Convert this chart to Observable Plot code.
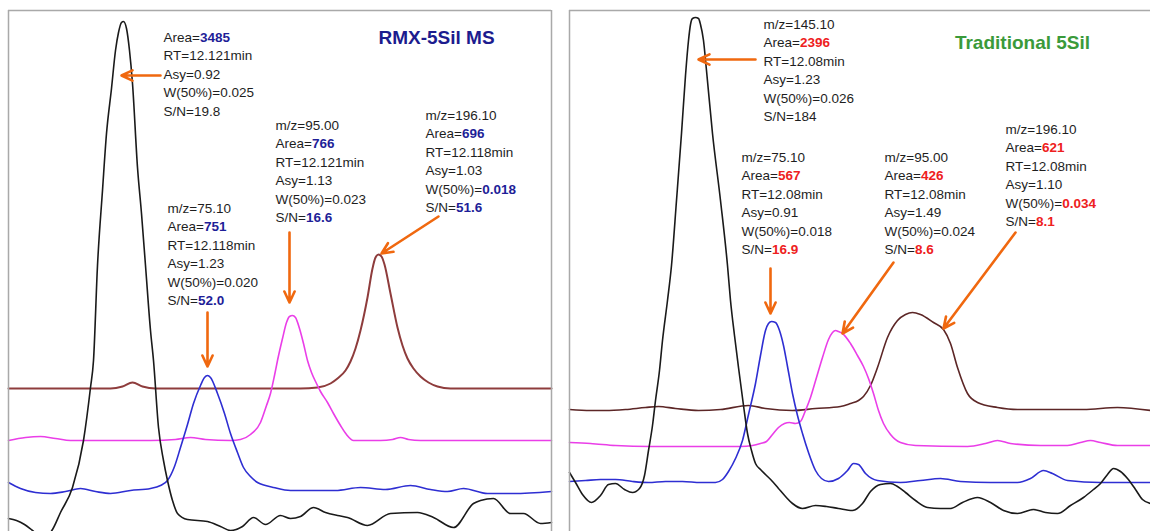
<!DOCTYPE html>
<html>
<head>
<meta charset="utf-8">
<script src="https://cdn.jsdelivr.net/npm/d3@7"></script>
<script src="https://cdn.jsdelivr.net/npm/@observablehq/plot@0.6"></script>
<style>
  html, body { margin: 0; padding: 0; background: #fff; }
  #wrap { display: flex; width: 1150px; height: 531px; overflow: hidden; }
  #wrap svg { display: block; flex: none; }
</style>
</head>
<body>
<div id="wrap"></div>
<script>
// ---------- DATA (scan index vs. intensity) ----------
// Left panel: RMX-5Sil MS
const leftBrown = [[0,143],[52,143],[102,143],[114,145],[124,149],[134,145],[147,143],[192,143],[252,143],[292,143],[309,144],[322,148],[329,153],[337,161],[342,170],[347,183],[352,201],[359,234],[364,263],[367,274],[370,277],[373,275],[376,267],[382,238],[389,204],[394,186],[399,173],[405,163],[412,155],[420,149],[429,145],[442,143],[492,143],[543,143]];
const leftPink = [[0,91],[17,94],[32,95],[47,93],[62,91],[112,91],[142,91],[167,92],[182,94],[197,92],[222,91],[232,92],[242,97],[252,109],[258,126],[262,138],[266,156],[269,171],[274,193],[278,209],[281,215],[284,216],[287,214],[291,203],[295,188],[299,171],[303,159],[308,148],[312,140],[319,129],[325,118],[332,106],[338,97],[345,91],[372,91],[384,92],[392,94],[400,92],[412,91],[472,91],[543,91]];
const leftBlue = [[0,49],[12,43],[27,39],[42,38],[57,40],[72,43],[87,40],[102,38],[122,41],[142,43],[152,46],[159,51],[166,65],[172,84],[179,107],[185,128],[192,146],[196,154],[199,156],[202,154],[209,138],[216,118],[222,98],[229,79],[235,64],[242,55],[249,49],[257,46],[265,44],[282,41],[302,41],[327,41],[352,44],[377,42],[402,46],[422,42],[439,40],[455,43],[479,38],[505,38],[543,40]];
const leftBlack = [[0,13],[8,11],[16,7],[24,1],[32,-5],[38,-5],[44,2],[52,19],[64,44],[75,91],[82,144],[85,171],[89,266],[94,341],[98,398],[103,443],[107,481],[110,499],[113,509],[115,510],[118,503],[121,481],[124,448],[129,364],[133,318],[137,266],[142,201],[145,171],[150,104],[155,71],[159,51],[164,31],[169,18],[179,12],[199,10],[212,5],[222,1],[234,5],[245,14],[257,7],[272,16],[282,13],[292,15],[305,24],[317,19],[329,16],[339,14],[359,6],[382,18],[409,19],[425,14],[445,4],[465,28],[472,31],[485,33],[502,18],[515,18],[532,8],[543,9]];

// Right panel: Traditional 5Sil
const rightBrown = [[0,122],[21,121],[36,121],[56,122],[76,124],[89,125],[106,123],[129,121],[151,122],[179,126],[196,123],[223,121],[246,123],[271,125],[281,128],[289,131],[294,135],[301,146],[308,164],[318,194],[328,211],[336,217],[343,219],[351,217],[364,209],[374,202],[381,188],[388,164],[398,138],[408,129],[428,124],[448,122],[481,122],[514,122],[548,124],[581,121]];
const rightPink = [[0,89],[21,88],[46,86],[81,85],[129,85],[171,85],[183,86],[191,88],[197,90],[203,97],[209,104],[215,108],[220,109],[226,108],[231,110],[236,121],[241,134],[247,154],[253,174],[259,192],[263,199],[266,201],[269,200],[273,198],[281,188],[288,176],[294,165],[299,153],[304,138],[309,121],[314,108],[321,97],[331,89],[346,86],[398,85],[416,88],[428,91],[441,88],[471,86],[498,86],[511,89],[521,91],[531,89],[548,86],[581,86]];
const rightBlue = [[0,50],[16,51],[31,52],[46,52],[63,50],[79,49],[96,50],[113,50],[131,49],[146,49],[153,52],[159,60],[166,73],[173,91],[179,117],[186,148],[191,176],[196,201],[199,208],[202,210],[206,209],[210,201],[214,186],[218,165],[223,138],[228,116],[233,98],[239,79],[246,61],[252,53],[259,50],[269,53],[278,61],[284,68],[289,67],[296,58],[308,51],[331,49],[351,51],[371,53],[391,50],[421,49],[448,49],[461,53],[474,61],[483,58],[498,51],[531,49],[581,49]];
const rightBlack = [[0,59],[6,49],[13,37],[22,29],[31,36],[39,47],[46,48],[55,42],[63,39],[70,43],[75,56],[79,81],[83,106],[86,131],[90,161],[93,191],[98,231],[102,266],[107,331],[112,398],[116,456],[119,491],[121,507],[123,513],[126,514],[129,513],[131,507],[134,491],[137,461],[143,398],[151,331],[158,266],[161,231],[165,196],[169,164],[174,126],[178,98],[182,81],[186,68],[191,62],[196,57],[203,50],[209,43],[216,35],[223,28],[233,23],[246,26],[257,25],[269,23],[283,21],[293,28],[301,40],[311,47],[321,48],[328,45],[336,39],[346,31],[358,24],[371,23],[381,23],[393,29],[408,34],[421,29],[434,21],[448,18],[464,22],[476,19],[488,18],[501,26],[514,34],[524,42],[531,48],[538,57],[544,63],[551,60],[558,53],[566,42],[573,32],[581,28]];

// Peak annotation text (label|highlighted value)
const leftTitle = "RMX-5Sil MS";
const rightTitle = "Traditional 5Sil";
const leftBlocks = [
  {x: 155, y: 494, lines: ["Area=|3485", "RT=12.121min", "Asy=0.92", "W(50%)=0.025", "S/N=19.8"]},
  {x: 159, y: 323, lines: ["m/z=75.10", "Area=|751", "RT=12.118min", "Asy=1.23", "W(50%)=0.020", "S/N=|52.0"]},
  {x: 267, y: 406, lines: ["m/z=95.00", "Area=|766", "RT=12.121min", "Asy=1.13", "W(50%)=0.023", "S/N=|16.6"]},
  {x: 417, y: 416, lines: ["m/z=196.10", "Area=|696", "RT=12.118min", "Asy=1.03", "W(50%)=|0.018", "S/N=|51.6"]}
];
const rightBlocks = [
  {x: 194, y: 507, lines: ["m/z=145.10", "Area=|2396", "RT=12.08min", "Asy=1.23", "W(50%)=0.026", "S/N=184"]},
  {x: 172, y: 374, lines: ["m/z=75.10", "Area=|567", "RT=12.08min", "Asy=0.91", "W(50%)=0.018", "S/N=|16.9"]},
  {x: 315, y: 374, lines: ["m/z=95.00", "Area=|426", "RT=12.08min", "Asy=1.49", "W(50%)=0.024", "S/N=|8.6"]},
  {x: 436, y: 402, lines: ["m/z=196.10", "Area=|621", "RT=12.08min", "Asy=1.10", "W(50%)=|0.034", "S/N=|8.1"]}
];
const leftArrows = [
  {x1: 152, y1: 456, x2: 113, y2: 456},
  {x1: 199, y1: 219, x2: 199, y2: 165},
  {x1: 281, y1: 299, x2: 281, y2: 229},
  {x1: 430, y1: 315, x2: 373, y2: 278}
];
const rightArrows = [
  {x1: 186, y1: 472, x2: 129, y2: 472},
  {x1: 201, y1: 263, x2: 201, y2: 218},
  {x1: 324, y1: 269, x2: 273, y2: 198},
  {x1: 446, y1: 299, x2: 374, y2: 203}
];

// ---------- DRAWING ----------
const FONT = "'Liberation Sans', Arial, sans-serif";
const LINE_STEP = 18.5;
const expand = blocks => blocks.flatMap(b => b.lines.map((t, i) => ({x: b.x, y: b.y - i * LINE_STEP, t})));

function traces(brown, pink, blue, black, brownColor, brownWidth) {
  const opt = {x: d => d[0], y: d => d[1], curve: "monotone-x", strokeLinejoin: "round"};
  return [
    Plot.line(brown, {...opt, stroke: brownColor, strokeWidth: brownWidth}),
    Plot.line(pink, {...opt, stroke: "#ea3ee8", strokeWidth: 1.6}),
    Plot.line(blue, {...opt, stroke: "#2e2ed2", strokeWidth: 1.6}),
    Plot.line(black, {...opt, stroke: "#1a1a1a", strokeWidth: 1.6})
  ];
}
function notes(blocks, arrows) {
  return [
    Plot.arrow(arrows, {x1: "x1", y1: "y1", x2: "x2", y2: "y2", stroke: "#f0680f", strokeWidth: 2.6, headLength: 7, headAngle: 50}),
    Plot.text(expand(blocks), {x: "x", y: "y", text: "t", textAnchor: "start", lineAnchor: "middle", fill: "#1e1e1e", fontSize: 13.5, fontFamily: FONT})
  ];
}
function richify(svg, color) {
  d3.select(svg).selectAll("text").each(function () {
    const s = this.textContent;
    if (!s.includes("|")) return;
    const [a, b] = s.split("|");
    const sel = d3.select(this);
    sel.text(null);
    sel.append("tspan").text(a);
    sel.append("tspan").attr("fill", color).attr("font-weight", "bold").text(b);
  });
}

const left = Plot.plot({
  width: 560, height: 531,
  marginLeft: 8, marginRight: 9, marginTop: 10, marginBottom: 0,
  x: {domain: [0, 543], axis: null},
  y: {domain: [0, 521], axis: null},
  style: {fontFamily: FONT, background: "#fff"},
  marks: [
    ...traces(leftBrown, leftPink, leftBlue, leftBlack, "#8e3c3c", 2),
    ...notes(leftBlocks, leftArrows),
    Plot.text([leftTitle], {x: 428, y: 494, text: d => d, textAnchor: "middle", lineAnchor: "middle", fill: "#1c1c8e", fontWeight: "bold", fontSize: 19, fontFamily: FONT}),
    Plot.ruleX([0, 543], {stroke: "#a9a9a9", strokeWidth: 1.5}),
    Plot.ruleY([521], {stroke: "#a9a9a9", strokeWidth: 1.5})
  ]
});
richify(left, "#1e1e98");

const right = Plot.plot({
  width: 590, height: 531,
  marginLeft: 9, marginRight: 0, marginTop: 10, marginBottom: 0,
  x: {domain: [0, 581], axis: null},
  y: {domain: [0, 521], axis: null},
  style: {fontFamily: FONT, background: "#fff"},
  marks: [
    ...traces(rightBrown, rightPink, rightBlue, rightBlack, "#5c2626", 1.6),
    ...notes(rightBlocks, rightArrows),
    Plot.text([rightTitle], {x: 453, y: 489, text: d => d, textAnchor: "middle", lineAnchor: "middle", fill: "#3a9a3a", fontWeight: "bold", fontSize: 19, fontFamily: FONT}),
    Plot.ruleX([0], {stroke: "#a9a9a9", strokeWidth: 1.5}),
    Plot.ruleY([521], {stroke: "#a9a9a9", strokeWidth: 1.5})
  ]
});
richify(right, "#ee2020");

document.getElementById("wrap").append(left, right);
</script>
</body>
</html>
